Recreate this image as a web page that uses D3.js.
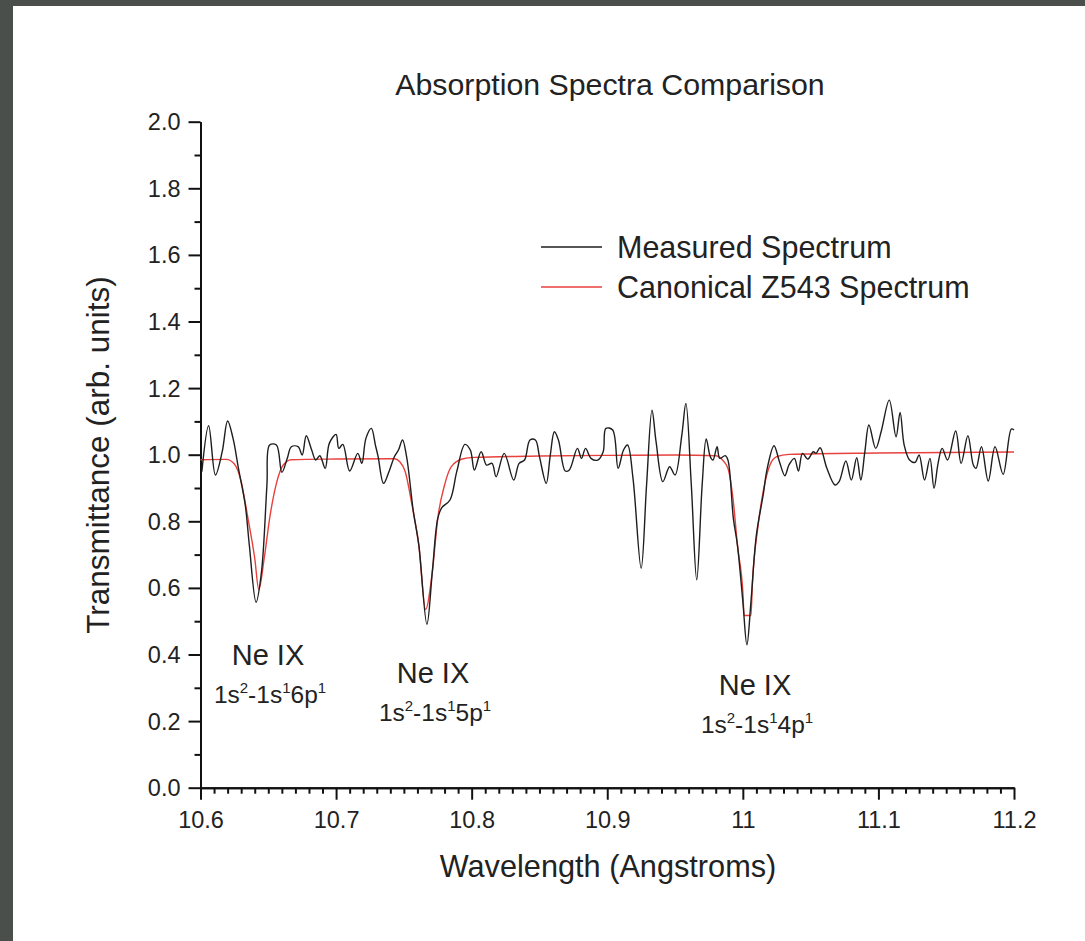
<!DOCTYPE html>
<html><head><meta charset="utf-8">
<script src="https://cdn.jsdelivr.net/npm/d3@7"></script>
<style>body{margin:0;background:#4a4f4b}svg{display:block}</style>
</head><body><svg id="c" width="1085" height="941"></svg>
<script>
// ---- data ----
const measuredWl = [10.601,10.606,10.611,10.616,10.620,10.624,10.628,10.633,10.636,10.641,10.645,10.649,10.651,10.656,10.660,10.664,10.667,10.672,10.675,10.678,10.682,10.685,10.688,10.692,10.695,10.700,10.702,10.705,10.710,10.716,10.719,10.722,10.726,10.729,10.731,10.735,10.739,10.743,10.746,10.749,10.752,10.757,10.761,10.767,10.771,10.775,10.778,10.784,10.789,10.795,10.799,10.802,10.807,10.811,10.815,10.818,10.824,10.831,10.835,10.839,10.843,10.847,10.850,10.855,10.858,10.861,10.864,10.869,10.872,10.878,10.881,10.884,10.888,10.893,10.897,10.899,10.904,10.908,10.912,10.915,10.919,10.925,10.929,10.933,10.936,10.941,10.946,10.950,10.955,10.958,10.962,10.966,10.970,10.973,10.976,10.978,10.981,10.983,10.987,10.989,10.993,10.996,11.000,11.003,11.006,11.010,11.015,11.018,11.023,11.027,11.031,11.034,11.038,11.041,11.044,11.048,11.052,11.054,11.057,11.062,11.068,11.071,11.076,11.080,11.084,11.087,11.090,11.093,11.098,11.102,11.108,11.113,11.116,11.119,11.123,11.127,11.130,11.134,11.138,11.141,11.144,11.147,11.151,11.157,11.161,11.166,11.170,11.172,11.176,11.181,11.186,11.192,11.198,11.200];
const measuredT = [0.949,1.087,0.939,1.009,1.101,1.049,0.959,0.849,0.729,0.557,0.649,0.909,1.029,1.029,0.947,0.989,1.024,1.024,0.999,1.057,1.014,0.984,0.997,0.959,1.034,1.061,1.019,1.031,0.951,1.004,0.974,1.049,1.079,1.029,0.994,0.914,0.949,0.994,1.014,1.044,0.994,0.829,0.729,0.491,0.649,0.809,0.841,0.864,0.949,1.031,1.014,0.954,1.009,0.969,0.974,0.934,1.004,0.924,0.974,0.984,1.044,1.044,0.994,0.914,0.999,1.069,1.044,0.951,0.954,1.019,0.989,1.019,0.989,0.984,1.009,1.079,1.074,0.959,1.014,1.029,0.929,0.659,0.909,1.134,1.039,0.919,0.964,0.939,1.059,1.154,0.909,0.624,0.909,1.047,0.994,0.984,1.024,0.989,0.997,0.984,0.809,0.729,0.559,0.429,0.559,0.759,0.879,0.959,1.027,0.979,0.937,0.969,0.989,0.951,1.004,0.987,1.009,1.004,1.021,0.959,0.909,0.919,0.981,0.924,0.991,0.924,1.009,1.089,1.019,1.069,1.164,1.054,1.127,1.029,0.984,0.977,0.999,0.924,0.989,0.899,0.974,1.019,0.984,1.071,0.974,1.057,0.969,0.959,1.024,0.921,1.024,0.941,1.077,1.074];
const canonicalWl = [10.600,10.619,10.625,10.630,10.635,10.640,10.643,10.647,10.651,10.656,10.661,10.667,10.700,10.743,10.747,10.751,10.756,10.761,10.766,10.771,10.775,10.780,10.785,10.793,10.802,10.850,10.900,10.950,10.980,10.985,10.989,10.993,10.996,11.000,11.001,11.006,11.007,11.011,11.015,11.020,11.025,11.034,11.100,11.200];
const canonicalT = [0.985,0.986,0.972,0.919,0.809,0.689,0.595,0.689,0.809,0.914,0.969,0.985,0.987,0.988,0.979,0.949,0.849,0.729,0.535,0.649,0.809,0.909,0.964,0.987,0.992,0.996,0.998,0.999,0.997,0.984,0.959,0.859,0.729,0.589,0.517,0.517,0.609,0.779,0.889,0.969,0.994,1.001,1.005,1.008];
const xTicks = [10.6,10.7,10.8,10.9,11.0,11.1,11.2];
const xTickLabels = ["10.6","10.7","10.8","10.9","11","11.1","11.2"];
const yTicks = [0,0.2,0.4,0.6,0.8,1.0,1.2,1.4,1.6,1.8,2.0];
const yTickLabels = ["0.0","0.2","0.4","0.6","0.8","1.0","1.2","1.4","1.6","1.8","2.0"];
const seriesNames = ["Measured Spectrum","Canonical Z543 Spectrum"];
const lineLabels = [
  {name:"Ne IX", lower:"6p"},
  {name:"Ne IX", lower:"5p"},
  {name:"Ne IX", lower:"4p"}
];

// ---- drawing ----
const svg = d3.select("#c");
const FONT = "'Liberation Sans', Arial, Helvetica, sans-serif";
svg.append("rect").attr("x",13).attr("y",6).attr("width",1085-13).attr("height",941-6).attr("fill","#fff");

const x = d3.scaleLinear().domain([10.6,11.2]).range([200.5,1014]);
const y = d3.scaleLinear().domain([0,2]).range([787.7,121.7]);

const xMinor = d3.range(0,61).map(i=>10.6+i*0.01).filter(v=>Math.abs(Math.round(v*10)-v*10)>1e-6);
const yMinor = d3.range(0,10).map(i=>0.1+i*0.2);

const gxm = svg.append("g").attr("transform","translate(0,787.7)")
  .call(d3.axisBottom(x).tickValues(xMinor).tickSize(6).tickSizeOuter(0).tickFormat(""));
const gym = svg.append("g").attr("transform","translate(200.5,0)")
  .call(d3.axisLeft(y).tickValues(yMinor).tickSize(6).tickSizeOuter(0).tickFormat(""));
const gx = svg.append("g").attr("transform","translate(0,787.7)")
  .call(d3.axisBottom(x).tickValues(xTicks).tickSize(12).tickSizeOuter(0).tickFormat((d,i)=>xTickLabels[i]));
const gy = svg.append("g").attr("transform","translate(200.5,0)")
  .call(d3.axisLeft(y).tickValues(yTicks).tickSize(12).tickSizeOuter(0).tickFormat((d,i)=>yTickLabels[i]));

[gxm,gym,gx,gy].forEach(g=>{
  g.selectAll("path.domain").attr("stroke","#111").attr("stroke-width",2);
  g.selectAll(".tick line").attr("stroke","#111").attr("stroke-width",2);
});
gx.selectAll("text").attr("dy",null).attr("y",40).attr("font-size",23.5).attr("font-family",FONT).attr("fill","#222");
gy.selectAll("text").attr("dy","0.34em").attr("x",-20).attr("font-size",23.5).attr("font-family",FONT).attr("fill","#222");

// lines
const canonicalLine = d3.line().x((d,i)=>x(canonicalWl[i])).y(d=>y(d)).curve(d3.curveMonotoneX);
const measuredLine = d3.line().x((d,i)=>x(measuredWl[i])).y(d=>y(d)).curve(d3.curveCatmullRom.alpha(0.5));
svg.append("path").attr("d",canonicalLine(canonicalT)).attr("fill","none").attr("stroke","#e8413c").attr("stroke-width",1.4);
svg.append("path").attr("d",measuredLine(measuredT)).attr("fill","none").attr("stroke","#1e1e1e").attr("stroke-width",1.4);

// title & axis labels
svg.append("text").attr("x",610).attr("y",95).attr("text-anchor","middle").attr("font-family",FONT)
  .attr("font-size",30.3).attr("fill","#222").text("Absorption Spectra Comparison");
svg.append("text").attr("x",608).attr("y",877).attr("text-anchor","middle").attr("font-family",FONT)
  .attr("font-size",30.7).attr("fill","#222").text("Wavelength (Angstroms)");
svg.append("text").attr("transform","translate(109,455) rotate(-90)").attr("text-anchor","middle").attr("font-family",FONT)
  .attr("font-size",31.5).attr("fill","#222").text("Transmittance (arb. units)");

// legend
const legendColors = ["#1e1e1e","#e8413c"];
seriesNames.forEach((n,i)=>{
  const ly = 247 + i*40;
  svg.append("line").attr("x1",541).attr("x2",602).attr("y1",ly).attr("y2",ly).attr("stroke",legendColors[i]).attr("stroke-width",1.4);
  svg.append("text").attr("x",617).attr("y",ly+10.5).attr("font-family",FONT).attr("font-size",30.5).attr("fill","#222").text(n);
});

// line annotations
const annX = [268,433,755];
const annY = [665,683,695];
lineLabels.forEach((a,i)=>{
  svg.append("text").attr("x",annX[i]).attr("y",annY[i]).attr("text-anchor","middle").attr("font-family",FONT)
    .attr("font-size",29).attr("fill","#222").text(a.name);
  const t = svg.append("text").attr("x",annX[i]+2).attr("y",annY[i]+38).attr("text-anchor","middle").attr("font-family",FONT)
    .attr("font-size",24.5).attr("fill","#222");
  t.append("tspan").text("1s");
  t.append("tspan").attr("dy",-10).attr("font-size",15).text("2");
  t.append("tspan").attr("dy",10).text("-1s");
  t.append("tspan").attr("dy",-10).attr("font-size",15).text("1");
  t.append("tspan").attr("dy",10).text(a.lower);
  t.append("tspan").attr("dy",-10).attr("font-size",15).text("1");
});
</script></body></html>
